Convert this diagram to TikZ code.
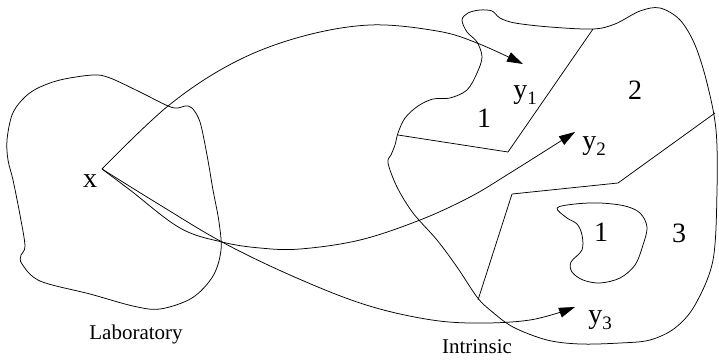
\documentclass[tikz,border=0pt]{standalone}
\usepackage{fontspec}
\setmainfont{Liberation Serif}
\usetikzlibrary{arrows.meta}
\newcommand\subidx[1]{\lower6pt\hbox{\fontsize{19}{19}\selectfont #1}}
\begin{document}
\begin{tikzpicture}[x=1pt,y=-1pt,
  line width=0.75pt, line join=round,
  conn/.style={-{Triangle[length=16pt,width=10pt]}},
  big/.style={font=\fontsize{28}{28}\selectfont, inner sep=0pt},
  captext/.style={font=\fontsize{21}{21}\selectfont, inner sep=0pt}]
\useasboundingbox (0,0) rectangle (719,359);

% Laboratory region
\draw plot[smooth cycle, tension=0.55] coordinates {
  (93,75) (110,78) (140,92) (168,106) (178,108) (185,106) (192,108)
  (200,122) (207,155) (213,190) (219,222) (221,250) (213,276) (192,298)
  (160,309) (133,306) (90,294) (40,281) (22,264) (21,255) (25,246)
  (20,215) (13,180) (8,160) (7,140) (12,115) (22,100) (36,89) (60,80)};

% Intrinsic region
\draw plot[smooth cycle, tension=0.55] coordinates {
  (468,13) (480,10) (492,11) (500,18) (515,23) (550,27) (593,29)
  (615,24) (640,11) (660,8) (680,20) (695,45) (707,83) (716,130)
  (717,190) (713,260) (695,305) (675,328) (650,340) (620,343) (580,344)
  (547,340) (513,327) (490,310) (477,297) (457,267) (437,240) (413,213)
  (397,187) (388,163) (391,155) (395,145) (398,133) (405,118) (418,106)
  (433,99) (450,98) (467,90) (477,73) (482,57) (477,42) (467,32) (462,20)};

% region boundaries
\draw (398,135) -- (508,152) -- (593,29);
\draw (715,113) -- (618,183) -- (512,194) -- (478,300);

% inner island
\draw plot[smooth cycle, tension=0.55] coordinates {
  (557,208) (575,204) (600,203) (625,206) (640,213) (647,227) (643,245)
  (635,265) (620,278) (600,283) (583,280) (572,272) (571,262) (582,250)
  (582,235) (577,224) (567,218)};

% points
\coordinate (x) at (102,169);
\coordinate (t1) at (523,64);
\coordinate (t2) at (575,132);
\coordinate (t3) at (575,307);

% connectors
\draw[conn] plot[smooth, tension=0.6] coordinates {(x) (168,106) (233,63) (300,37) (370,25) (437,31) (477,43) (t1)};
\draw[conn] plot[smooth, tension=0.6] coordinates {(x) (130,190) (180,228) (222,242) (260,248) (300,249) (360,240) (420,220) (470,197) (510,173) (t2)};
\draw[conn] plot[smooth, tension=0.6] coordinates {(x) (160,205) (222,242) (290,275) (360,303) (420,318) (470,323) (530,320) (t3)};

% labels
\node[big] (xl) at (90,181) {x};
\node[big, anchor=base west] (y1) at (513,98) {y\subidx{1}};
\node[big, anchor=base west] (y2) at (582,149) {y\subidx{2}};
\node[big, anchor=base west] (y3) at (588,323) {y\subidx{3}};
\node[big] (r1a) at (484,118) {1};
\node[big] (r2) at (635,90) {2};
\node[big] (r1b) at (601,232) {1};
\node[big] (r3) at (679,233) {3};
\node[captext] (lab) at (136,334) {Laboratory};
\node[captext] (intr) at (477,347) {Intrinsic};
\end{tikzpicture}
\end{document}
